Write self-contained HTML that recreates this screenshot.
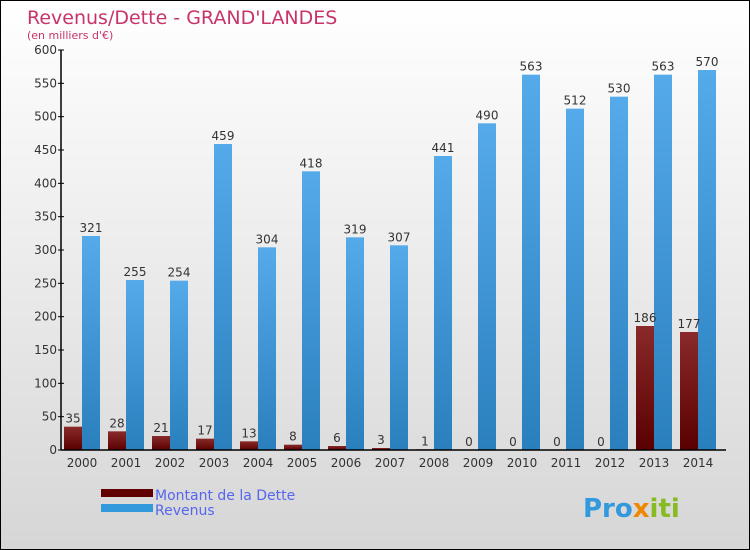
<!DOCTYPE html>
<html><head><meta charset="utf-8"><style>
body{margin:0}
#c{width:750px;height:550px;position:relative;box-sizing:border-box;border:1px solid #000;background:linear-gradient(#ffffff,#d6d6d6);font-family:"DejaVu Sans","Liberation Sans",sans-serif;overflow:hidden}
</style></head><body>
<div id="c">
<svg id="s" width="748" height="548" style="position:absolute;left:0;top:0">
<defs>
<linearGradient id="gd" x1="0" y1="0" x2="0" y2="1"><stop offset="0" stop-color="#8a2a2a"/><stop offset="1" stop-color="#5a0000"/></linearGradient>
<linearGradient id="gr" x1="0" y1="0" x2="0" y2="1"><stop offset="0" stop-color="#55aaea"/><stop offset="1" stop-color="#2a7fbd"/></linearGradient>
</defs>
<text x="26" y="23" font-size="19" fill="#c8336a">Revenus/Dette - GRAND'LANDES</text>
<text x="26" y="38" font-size="11" fill="#c8336a">(en milliers d'€)</text>
<g id="bars"></g>
<g id="axes"></g>
<rect x="100" y="488" width="52" height="8" fill="#600000"/>
<rect x="100" y="503" width="52" height="8" fill="#3399dd"/>
<text x="154" y="499" font-size="14" fill="#5566ee">Montant de la Dette</text>
<text x="154" y="514" font-size="14" fill="#5566ee">Revenus</text>
<text x="582" y="516" font-size="26" font-weight="bold" fill="#3399dd">Pro<tspan fill="#ee8800">x</tspan><tspan fill="#88bb22">iti</tspan></text>
</svg>
</div>
<script>
const years=["2000","2001","2002","2003","2004","2005","2006","2007","2008","2009","2010","2011","2012","2013","2014"];
const dette=[35,28,21,17,13,8,6,3,1,0,0,0,0,186,177];
const revenus=[321,255,254,459,304,418,319,307,441,490,563,512,530,563,570];
const ticks=[0,50,100,150,200,250,300,350,400,450,500,550,600];
const NS="http://www.w3.org/2000/svg";
const x0=63,step=44,bw=18,yBase=449,pxPer=400/600;
const y=v=>yBase-v*pxPer;
const bars=document.getElementById('bars'),axes=document.getElementById('axes');
function mk(tag,attrs,parent){const e=document.createElementNS(NS,tag);for(const k in attrs)e.setAttribute(k,attrs[k]);parent.appendChild(e);return e;}
years.forEach((yr,i)=>{
  const gx=x0+i*step;
  const d=mk('rect',{x:gx,y:y(dette[i]),width:bw,height:dette[i]*pxPer,fill:'url(#gd)'},bars);
  
  
  const r=mk('rect',{x:gx+bw,y:y(revenus[i]),width:bw,height:revenus[i]*pxPer,fill:'url(#gr)'},bars);
  
  
  const t1=mk('text',{x:gx+bw/2,y:y(dette[i])-4,'font-size':12,fill:'#333','text-anchor':'middle'},bars);
  t1.textContent=dette[i];
  
  
  const t2=mk('text',{x:gx+bw*1.5,y:y(revenus[i])-4,'font-size':12,fill:'#333','text-anchor':'middle'},bars);
  t2.textContent=revenus[i];
  
  
  const tx=mk('text',{x:gx+bw,y:466,'font-size':12,fill:'#333','text-anchor':'middle'},axes);
  tx.textContent=yr;
  
  
});
const ya=mk('line',{x1:60,y1:y(600),x2:60,y2:yBase,stroke:'#000','stroke-width':1.5},axes);


const xa=mk('line',{x1:60,y1:yBase,x2:725,y2:yBase,stroke:'#000','stroke-width':1.5},axes);


ticks.forEach(v=>{
  const l=mk('line',{x1:57,y1:y(v),x2:63,y2:y(v),stroke:'#000'},axes);
  
  
  const t=mk('text',{x:56,y:y(v)+4,'font-size':12,fill:'#333','text-anchor':'end'},axes);
  t.textContent=v;
  
  
});
</script>
</body></html>
